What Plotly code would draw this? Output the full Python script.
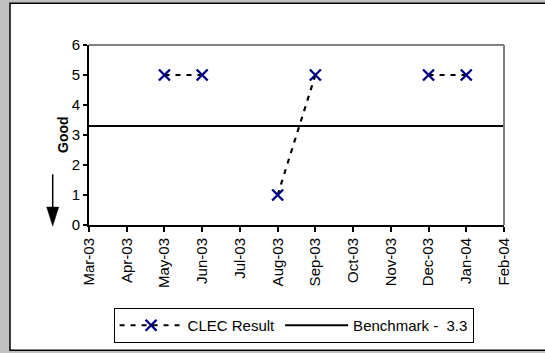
import plotly.graph_objects as go

months = ["Mar-03", "Apr-03", "May-03", "Jun-03", "Jul-03", "Aug-03",
          "Sep-03", "Oct-03", "Nov-03", "Dec-03", "Jan-04", "Feb-04"]
clec_result = [None, None, 5, 5, None, 1, 5, None, None, 5, 5, None]
benchmark = [3.3] * len(months)

W, H = 545, 353
L, R, T, B = 89, 504, 45, 226  # plot area in pixels
FONT = "Liberation Sans, Arial"


def px(x):
    return (x - L) / (R - L)


def py(y):
    return (B - y) / (B - T)


fig = go.Figure()

fig.add_trace(go.Scatter(
    x=months, y=clec_result, name="CLEC Result",
    mode="lines+markers", connectgaps=False,
    line=dict(color="black", width=2.2, dash="5px,6px"),
    marker=dict(symbol="x-thin", size=11, color="#000080",
                line=dict(color="#000080", width=2.4)),
))
fig.add_trace(go.Scatter(
    x=months, y=benchmark, name="Benchmark -\u00a0 3.3",
    mode="lines", line=dict(color="black", width=2),
))

# white chart area on grey page
fig.add_shape(type="rect", xref="paper", yref="paper", layer="below",
              x0=px(10), x1=px(547), y0=py(352), y1=py(3),
              fillcolor="white", line=dict(color="black", width=1.5))
# grey top and right frame of plot area
fig.add_shape(type="line", xref="paper", yref="paper",
              x0=0, x1=1, y0=1, y1=1, line=dict(color="#808080", width=2))
fig.add_shape(type="line", xref="paper", yref="paper",
              x0=1, x1=1, y0=0, y1=1, line=dict(color="#808080", width=2))
# down arrow under "Good"
ax = 52.7
fig.add_shape(type="line", xref="paper", yref="paper",
              x0=px(ax), x1=px(ax), y0=py(175), y1=py(209),
              line=dict(color="black", width=1.5))
fig.add_shape(type="path", xref="paper", yref="paper",
              path=f"M {px(ax-6)},{py(208)} L {px(ax+6)},{py(208)} L {px(ax)},{py(227)} Z",
              fillcolor="black", line=dict(color="black", width=0.5))

fig.add_annotation(text="<b>Good</b>", xref="paper", yref="paper",
                   x=px(53), y=0.5, textangle=-90, showarrow=False,
                   font=dict(family=FONT, size=14, color="black"))

fig.update_xaxes(type="category", range=[0, 11], dtick=1, tickangle=-90,
                 ticks="outside", ticklen=5, tickcolor="black", tickwidth=1.5,
                 showline=True, linecolor="black", linewidth=2,
                 showgrid=False, zeroline=False, tickfont=dict(size=15))
fig.update_yaxes(range=[0, 6], dtick=1, ticks="outside", ticklen=4,
                 tickcolor="black", tickwidth=1.5,
                 showline=True, linecolor="black", linewidth=2,
                 showgrid=False, zeroline=False, tickfont=dict(size=15))

fig.update_layout(
    width=W, height=H,
    margin=dict(l=L, r=W - R, t=T, b=H - B),
    paper_bgcolor="#c0c0c0", plot_bgcolor="white",
    font=dict(family=FONT, size=15, color="black"),
    showlegend=True,
    legend=dict(orientation="h", x=0.493, xanchor="center", y=py(308), yanchor="top",
                bordercolor="black", borderwidth=1, bgcolor="white",
                itemwidth=63, font=dict(size=15)),
)

fig.write_html("out.html", config={"displayModeBar": False},
               post_script="document.body.style.margin='0';")
